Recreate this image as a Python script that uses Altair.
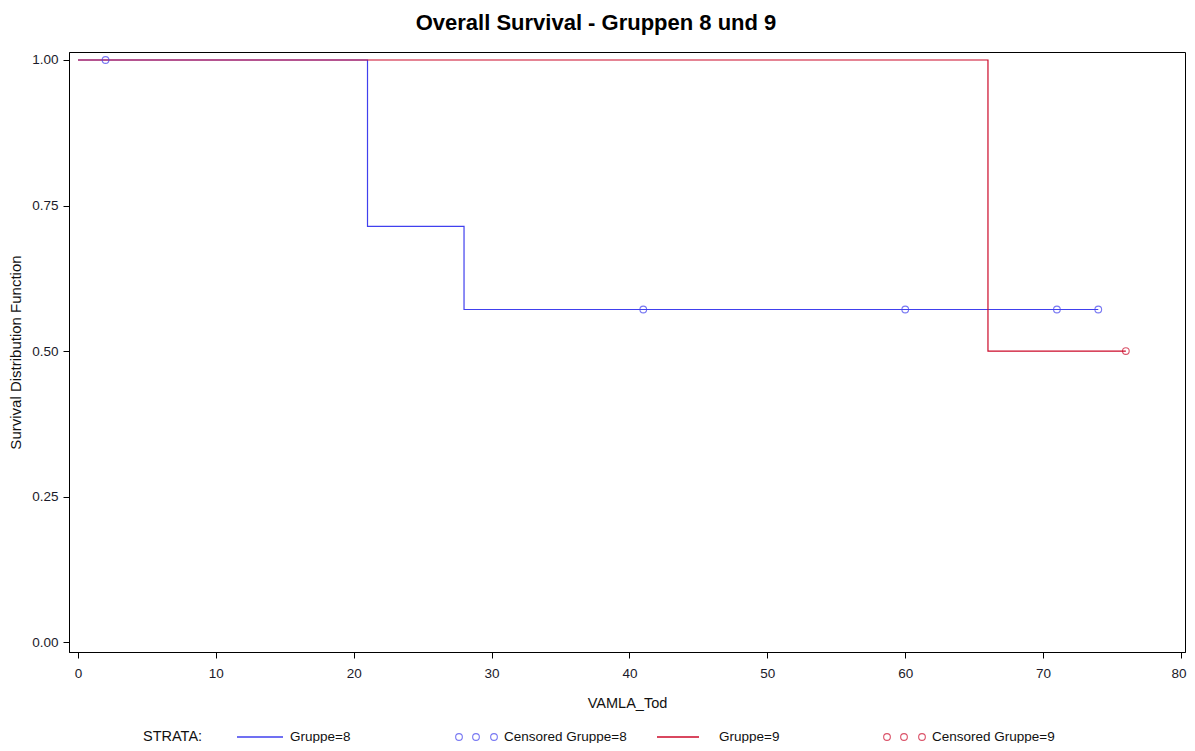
import altair as alt
import pandas as pd

# ---- data ----
g8_time = [0, 21, 28, 74]
g8_surv = [1.0, 0.7143, 0.5714, 0.5714]
g9_time = [0, 66, 76]
g9_surv = [1.0, 0.5, 0.5]

c8_time = [2, 41, 60, 71, 74]
c8_surv = [1.0, 0.5714, 0.5714, 0.5714, 0.5714]
c9_time = [76]
c9_surv = [0.5]

series_names = ["Gruppe=8", "Censored Gruppe=8", "Gruppe=9", "Censored Gruppe=9"]
series_colors = ["#4040EE", "#4040EE", "#CC0A2A", "#CC0A2A"]

y_ticks = [0, 0.25, 0.5, 0.75, 1.0]
x_ticks = [0, 10, 20, 30, 40, 50, 60, 70, 80]

line_df = pd.DataFrame({
    "t": g8_time + g9_time,
    "s": g8_surv + g9_surv,
    "series": ["Gruppe=8"] * len(g8_time) + ["Gruppe=9"] * len(g9_time),
    "ord": list(range(len(g8_time))) + list(range(len(g9_time))),
})
cens_df = pd.DataFrame({
    "t": c8_time + c9_time,
    "s": c8_surv + c9_surv,
    "series": ["Censored Gruppe=8"] * len(c8_time) + ["Censored Gruppe=9"] * len(c9_time),
})

FONT = "Liberation Sans"

color = alt.Color("series:N", scale=alt.Scale(domain=series_names, range=series_colors), legend=None)

xs = alt.Scale(domain=[-0.65, 80.29], nice=False, zero=False)
ys = alt.Scale(domain=[-0.017, 1.0137], nice=False, zero=False)

xenc = alt.X("t:Q", scale=xs, axis=alt.Axis(values=x_ticks, title="VAMLA_Tod", format="d",
                                             labelFlush=5, labelFlushOffset=5))
yenc = alt.Y("s:Q", scale=ys, axis=alt.Axis(values=y_ticks, title="Survival Distribution Function", format=".2f"))

lines = alt.Chart(line_df).mark_line(interpolate="step-after", strokeWidth=1.2).encode(
    x=xenc, y=yenc, color=color, order="ord:Q", detail="series:N"
)
points = alt.Chart(cens_df).mark_point(shape="circle", filled=False, size=45, strokeWidth=1.1).encode(
    x=xenc, y=yenc, color=color
)

# ---- hand-built legend row (decoration, pixel layout below the plot) ----
LEG_Y = 685
one = pd.DataFrame({"k": [0]})
legend_layers = []
legend_layers.append(
    alt.Chart(one).mark_text(text="STRATA:", font=FONT, fontSize=14.5, align="left",
                             baseline="middle", color="#111")
    .encode(x=alt.value(74), y=alt.value(LEG_Y))
)
# (series index, symbol kind, symbol start px, symbol width px, label px)
legend_layout = [
    (0, "line", 168, 46, 221),
    (1, "circles", 386, 0, 435),
    (2, "line", 588, 42, 650),
    (3, "circles", 814, 0, 863),
]
for idx, kind, sx, sw, lx in legend_layout:
    col = series_colors[idx]
    if kind == "line":
        legend_layers.append(
            alt.Chart(one).mark_rule(color=col, strokeWidth=1.3)
            .encode(x=alt.value(sx), x2=alt.value(sx + sw), y=alt.value(LEG_Y))
        )
    else:
        for dx in (4, 21, 39):
            legend_layers.append(
                alt.Chart(one).mark_point(shape="circle", filled=False, size=45, strokeWidth=1.1, color=col)
                .encode(x=alt.value(sx + dx), y=alt.value(LEG_Y))
            )
    legend_layers.append(
        alt.Chart(one).mark_text(text=series_names[idx], font=FONT, fontSize=13.5, align="left",
                                 baseline="middle", color="#111")
        .encode(x=alt.value(lx), y=alt.value(LEG_Y))
    )

chart = alt.layer(lines, points, *legend_layers).properties(
    width=1116, height=600,
    autosize=alt.AutoSizeParams(type="none"),
    padding={"left": 61, "top": 44, "right": 2, "bottom": 91},
    title=alt.TitleParams(
        "Overall Survival - Gruppen 8 und 9", font=FONT, fontSize=22, fontWeight="bold",
        color="#000", anchor="middle", dx=-31, offset=17,
    ),
).configure_view(stroke="#000", strokeWidth=1).configure_axis(
    grid=False, domainColor="#000", tickColor="#000", tickSize=6,
    labelFont=FONT, labelFontSize=13.5, labelColor="#1a1a2a", labelPadding=5,
    titleFont=FONT, titleFontWeight="normal", titleColor="#111",
).configure_axisX(titlePadding=17, labelPadding=8, titleFontSize=14.5).configure_axisY(
    titlePadding=8, titleFontSize=15
)

chart.save("out.html", embed_options={"renderer": "svg", "actions": False})
